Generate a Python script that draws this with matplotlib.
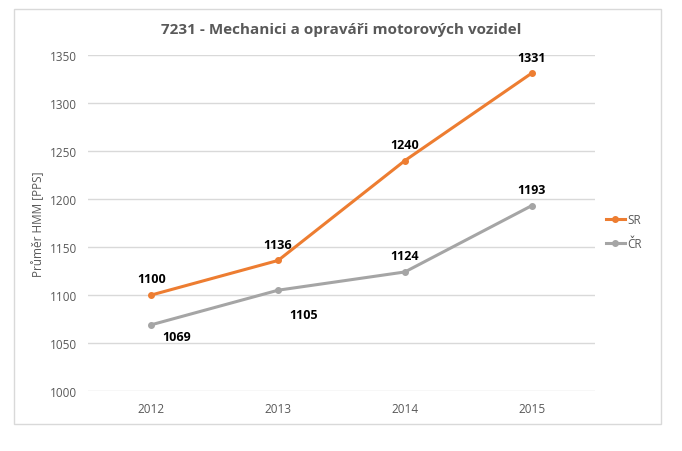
import matplotlib.pyplot as plt
from matplotlib.patches import Rectangle

plt.rcParams['font.family'] = ['Open Sans', 'DejaVu Sans']

years = ["2012", "2013", "2014", "2015"]
sr = [1100, 1136, 1240, 1331]
cr = [1069, 1105, 1124, 1193]

# data label offsets in points (dx, dy)
sr_off = [(0, 7), (0, 7), (0, 7), (0, 7)]
cr_off = [(18, -4), (18, -13), (0, 7), (0, 7)]

fig = plt.figure(figsize=(6.82, 4.52), dpi=100)
fig.patches.append(Rectangle((14 / 682, 1 - 425 / 452), 647 / 682, 415 / 452,
                             transform=fig.transFigure, fill=False,
                             edgecolor="#d9d9d9", linewidth=1))
ax = fig.add_axes([88 / 682, 1 - 392 / 452, 507 / 682, 336 / 452])

x = list(range(len(years)))
ax.plot(x, sr, color="#ED7D31", linewidth=2.2, marker="o", markersize=4, label="SR")
ax.plot(x, cr, color="#A5A5A5", linewidth=2.2, marker="o", markersize=4, label="ČR")

for i in x:
    ax.annotate(str(sr[i]), (i, sr[i]), xytext=sr_off[i], textcoords="offset points",
                ha="center", va="bottom", fontsize=9, fontweight="bold", color="black")
    ax.annotate(str(cr[i]), (i, cr[i]), xytext=cr_off[i], textcoords="offset points",
                ha="center", va="bottom" if cr_off[i][1] > 0 else "top",
                fontsize=9, fontweight="bold", color="black")

ax.set_xlim(-0.5, 3.5)
ax.set_ylim(1000, 1350)
ax.set_yticks(range(1000, 1351, 50))
ax.set_xticks(x)
ax.set_xticklabels(years)
ax.grid(axis="y", color="#d9d9d9", linewidth=1)
ax.set_axisbelow(True)
for s in ax.spines.values():
    s.set_visible(False)
ax.tick_params(length=0, colors="#595959", labelsize=8.5, pad=8)
ax.set_ylabel("Průměr HMM [PPS]", color="#595959", fontsize=8.5, labelpad=3)

fig.text(0.5, 1 - 30 / 452, "7231 - Mechanici a opraváři motorových vozidel",
         ha="center", va="center", fontsize=11, fontweight="bold", color="#595959")

ax.legend(loc="center left", bbox_to_anchor=(1.0, 0.475), frameon=False, fontsize=8.5,
          handlelength=1.6, handletextpad=0.2, labelcolor="#595959", borderaxespad=0.5,
          labelspacing=0.9)

fig.savefig("out.png", dpi=100)
